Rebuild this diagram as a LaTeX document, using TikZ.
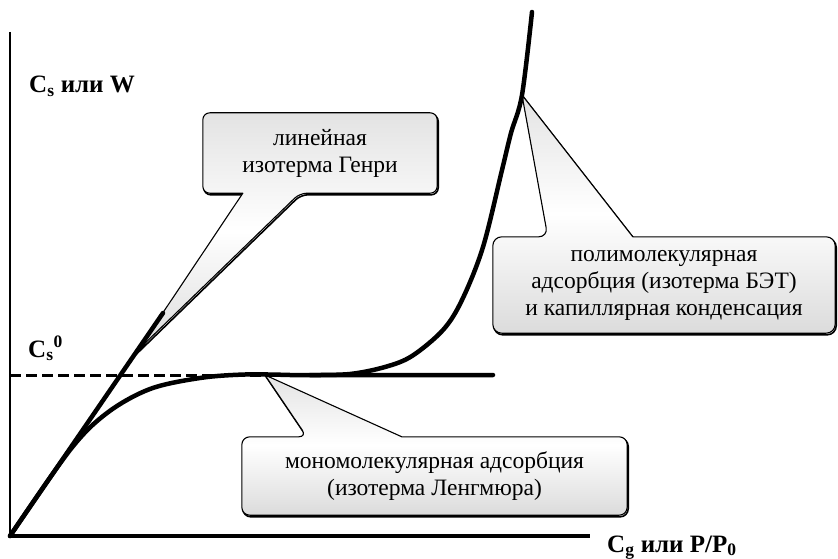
\documentclass[tikz,border=0pt]{standalone}
\usepackage{fontspec}
\setmainfont{Liberation Serif}
\newfontfamily\serifcyr{Liberation Serif}
\usetikzlibrary{calc, backgrounds}

\begin{document}
\begin{tikzpicture}[x=1pt, y=-1pt,
    axis/.style={line width=2pt},
    curve/.style={line width=4.5pt, line cap=round, line join=round},
    callout/.style={draw, line width=1.1pt, line join=round,
                    top color=gray!22, bottom color=gray!28, middle color=white,
                    preaction={draw=black, line width=1.6pt,
                               transform canvas={xshift=1pt, yshift=-1.6pt}}},
    box/.style={align=center, inner sep=0pt,
                font=\serifcyr\fontsize{23.5}{27}\selectfont},
    lbl/.style={anchor=base west, inner sep=0pt,
                font=\serifcyr\fontsize{25}{30}\selectfont\bfseries},
  ]
  \useasboundingbox (0,0) rectangle (838,559);

  % axes
  \coordinate (O)    at (10,536);
  \coordinate (ytop) at (10,32);
  \coordinate (xend) at (590,536);
  \draw[axis] (ytop) -- (O);
  \draw[line width=3.5pt] (O) -- (xend);
  \node[lbl] (ylab) at (29,93)   {C\textsubscript{s} или W};
  \node[lbl] (mono) at (28,357)  {C\textsubscript{s}\textsuperscript{0}};
  \node[lbl] (xlab) at (607,552) {C\textsubscript{g} или P/P\textsubscript{0}};

  % isotherms
  \coordinate (henryend) at (163,313);
  \coordinate (plateau)  at (493,375);
  \draw[line width=3pt, dash pattern=on 11pt off 5pt] (O |- plateau) -- (300,375);
  \draw[curve] (O) -- (henryend);
  \draw[curve] plot[smooth, tension=0.55] coordinates
    {(10,536) (70,450) (107,413) (150,389) (200,378) (245,374.5) (290,375)}
    -- (plateau);
  \draw[curve] plot[smooth, tension=0.55] coordinates
    {(310,375) (350,374) (385,367) (412,356) (443,330) (462,300)
     (483,247) (502,170) (511,133) (522,95) (532,12)};

  % callouts
  \coordinate (tipH) at (138,350);
  \coordinate (tipB) at (522,95);
  \coordinate (tipL) at (265,375);
  \node[box, minimum width=234pt, minimum height=80pt] (henry) at (320,153)
    {линейная\\изотерма Генри};
  \node[box, minimum width=342pt, minimum height=96pt] (bet) at (664,285)
    {полимолекулярная\\адсорбция (изотерма БЭТ)\\и капиллярная конденсация};
  \node[box, minimum width=385pt, minimum height=78pt] (lang) at (434.5,476)
    {мономолекулярная адсорбция\\(изотерма Ленгмюра)};

  \begin{scope}[on background layer]
    \path[callout] (henry.north) [rounded corners=7pt] -- (henry.north east)
      -- (henry.south east) -- ($(henry.south west)+(97,0)$) [sharp corners]
      -- (tipH) -- ($(henry.south west)+(40,0)$) [rounded corners=7pt]
      -- (henry.south west) -- (henry.north west) -- cycle;
    \path[callout] (bet.south) [rounded corners=9pt] -- (bet.south west)
      -- (bet.north west) -- ($(bet.north west)+(55,0)$) [sharp corners]
      -- (tipB) -- ($(bet.north west)+(140,0)$) [rounded corners=9pt]
      -- (bet.north east) -- (bet.south east) -- cycle;
    \path[callout] (lang.south) [rounded corners=8pt] -- (lang.south west)
      -- (lang.north west) -- ($(lang.north west)+(65,0)$) [sharp corners]
      -- (tipL) -- ($(lang.north west)+(160,0)$) [rounded corners=8pt]
      -- (lang.north east) -- (lang.south east) -- cycle;
  \end{scope}
\end{tikzpicture}
\end{document}
